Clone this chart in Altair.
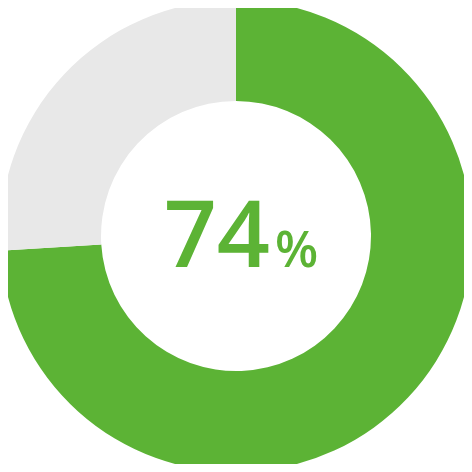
import altair as alt
import pandas as pd

categories = ["value", "rest"]
values = [74, 26]
colors = ["#5cb335", "#e8e8e8"]
big_label = ["74"]
unit_label = ["%"]

df = pd.DataFrame({"cat": categories, "val": values, "order": [0, 1]})

donut = alt.Chart(df).mark_arc(innerRadius=135, outerRadius=236, stroke=None).encode(
    theta=alt.Theta("val:Q", stack=True),
    order=alt.Order("order:Q"),
    color=alt.Color("cat:N", scale=alt.Scale(domain=categories, range=colors), legend=None),
    x=alt.value(228),
    y=alt.value(228),
)

t1 = alt.Chart(pd.DataFrame({"t": big_label})).mark_text(
    font="Open Sans", fontWeight=600, fontSize=93, color=colors[0],
    align="right", baseline="alphabetic",
).encode(text="t:N", x=alt.value(262), y=alt.value(259))

t2 = alt.Chart(pd.DataFrame({"t": unit_label})).mark_text(
    font="Open Sans", fontWeight=600, fontSize=50, color=colors[0],
    align="left", baseline="alphabetic",
).encode(text="t:N", x=alt.value(267), y=alt.value(259))

chart = alt.layer(donut, t1, t2).properties(
    width=456, height=456, autosize=alt.AutoSizeParams(type="none"), padding=0,
    background="white",
).configure_view(stroke=None)

chart.save("out.html", embed_options={"renderer": "svg", "actions": False})
